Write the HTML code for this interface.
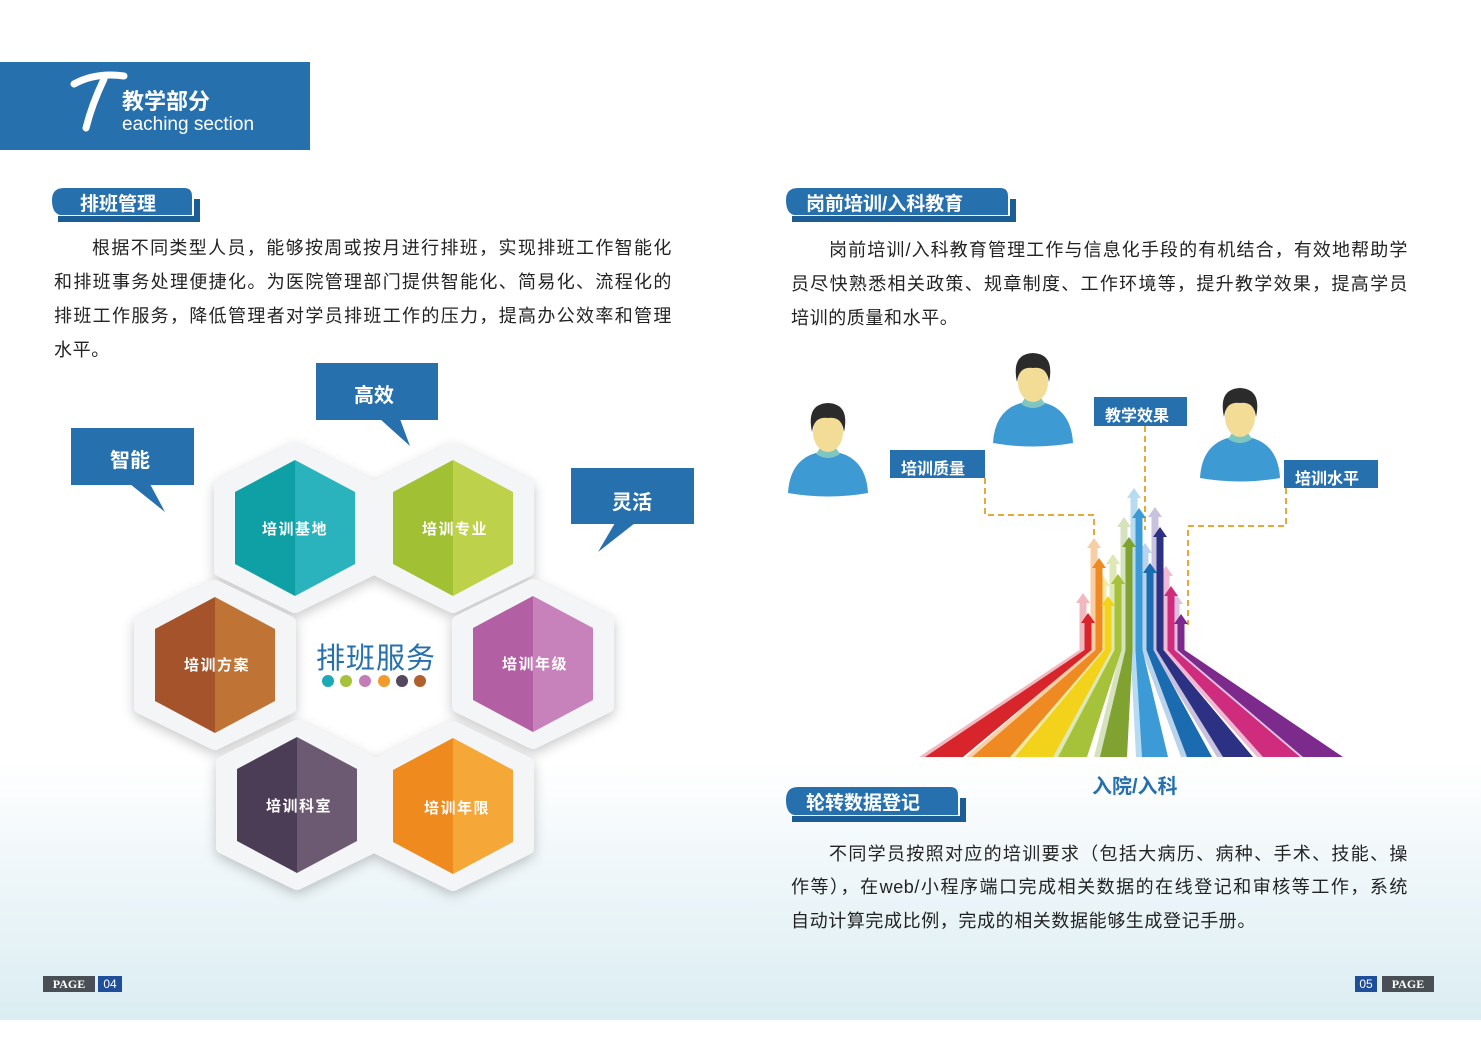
<!DOCTYPE html>
<html><head><meta charset="utf-8">
<style>
*{margin:0;padding:0;box-sizing:border-box}
body{width:1481px;height:1047px;position:relative;overflow:hidden;background:#fff;font-family:"Liberation Sans","Noto Sans CJK SC",sans-serif;}
.bg{position:absolute;left:0;top:760px;width:1481px;height:260px;background:linear-gradient(180deg,rgba(255,255,255,0) 0%,#eef6f9 45%,#dbedf2 100%);}
.t{position:absolute;font-size:18px;color:#232323;letter-spacing:0.6px;white-space:nowrap;text-align:justify;text-align-last:justify;}
.abs{position:absolute}
.lbl{position:absolute;color:#fff;font-weight:bold;font-family:"Liberation Sans","Noto Sans CJK SC",sans-serif;}
.hl{position:absolute;width:120px;text-align:center;color:#fff;font-weight:bold;font-size:15px;letter-spacing:1.5px;}
</style></head><body>
<div class="bg"></div>
<svg class="abs" style="left:0;top:0" width="1481" height="1047" xmlns="http://www.w3.org/2000/svg">
<rect x="0" y="62" width="310" height="88" fill="#2670ae"/>
<path d="M74 84 Q96 72 124 76" stroke="#fff" stroke-width="7" fill="none" stroke-linecap="round"/>
<path d="M104 79 Q92 104 86 128" stroke="#fff" stroke-width="7" fill="none" stroke-linecap="round"/>
<g>
<rect x="194" y="199" width="6" height="23" fill="#1c5d96"/>
<rect x="58" y="216" width="142" height="6" fill="#1c5d96"/>
<path d="M64 188 L184 188 Q192 188 192 196 L192 215 L60 215 Q52 213 52 200 Q52 188 64 188Z" fill="#2670ae"/>
</g>
<g>
<rect x="1010" y="199" width="6" height="23" fill="#1c5d96"/>
<rect x="792" y="216" width="224" height="6" fill="#1c5d96"/>
<path d="M798 188 L1000 188 Q1008 188 1008 196 L1008 215 L794 215 Q786 213 786 200 Q786 188 798 188Z" fill="#2670ae"/>
</g>
<g>
<rect x="960" y="798" width="6" height="24" fill="#1c5d96"/>
<rect x="792" y="816" width="174" height="6" fill="#1c5d96"/>
<path d="M798 787 L950 787 Q958 787 958 795 L958 815 L794 815 Q786 813 786 800 Q786 787 798 787Z" fill="#2670ae"/>
</g>
<rect x="71" y="428" width="123" height="57" fill="#2670ae"/><path d="M130 484 L165 512 L150 484Z" fill="#2670ae"/>
<rect x="316" y="363" width="122" height="57" fill="#2670ae"/><path d="M380 419 L410 446 L400 419Z" fill="#2670ae"/>
<rect x="571" y="468" width="123" height="56" fill="#2670ae"/><path d="M615 523 L598 552 L635 523Z" fill="#2670ae"/>
<defs><filter id="sh" x="-30%" y="-30%" width="160%" height="160%"><feDropShadow dx="0" dy="4" stdDeviation="6" flood-color="#000" flood-opacity="0.22"/></filter></defs>
<g>
<g filter="url(#sh)">
<path d="M295 450 L369 486 L369 570 L295 606 L221 570 L221 486Z" fill="#f4f5f7" stroke="#f4f5f7" stroke-width="14" stroke-linejoin="round"/>
<path d="M453 450 L527 486 L527 570 L453 606 L379 570 L379 486Z" fill="#f4f5f7" stroke="#f4f5f7" stroke-width="14" stroke-linejoin="round"/>
<path d="M215 587 L289 623 L289 707 L215 743 L141 707 L141 623Z" fill="#f4f5f7" stroke="#f4f5f7" stroke-width="14" stroke-linejoin="round"/>
<path d="M533 586 L607 622 L607 706 L533 742 L459 706 L459 622Z" fill="#f4f5f7" stroke="#f4f5f7" stroke-width="14" stroke-linejoin="round"/>
<path d="M297 727 L371 763 L371 847 L297 883 L223 847 L223 763Z" fill="#f4f5f7" stroke="#f4f5f7" stroke-width="14" stroke-linejoin="round"/>
<path d="M453 728 L527 764 L527 848 L453 884 L379 848 L379 764Z" fill="#f4f5f7" stroke="#f4f5f7" stroke-width="14" stroke-linejoin="round"/>
</g>
<path d="M295 460 L295 596 L235 564 L235 492Z" fill="#0fa0a6"/><path d="M295 460 L355 492 L355 564 L295 596Z" fill="#2ab3bd"/>
<path d="M453 460 L453 596 L393 564 L393 492Z" fill="#a2c034"/><path d="M453 460 L513 492 L513 564 L453 596Z" fill="#bed14a"/>
<path d="M215 597 L215 733 L155 701 L155 629Z" fill="#a4532a"/><path d="M215 597 L275 629 L275 701 L215 733Z" fill="#bf7436"/>
<path d="M533 596 L533 732 L473 700 L473 628Z" fill="#b35fa3"/><path d="M533 596 L593 628 L593 700 L533 732Z" fill="#c882bb"/>
<path d="M297 737 L297 873 L237 841 L237 769Z" fill="#4b3d55"/><path d="M297 737 L357 769 L357 841 L297 873Z" fill="#6b5a72"/>
<path d="M453 738 L453 874 L393 842 L393 770Z" fill="#ef8a1e"/><path d="M453 738 L513 770 L513 842 L453 874Z" fill="#f5a737"/>
</g>
<circle cx="328" cy="681" r="6" fill="#1ba9b4"/><circle cx="346" cy="681" r="6" fill="#a6c23a"/><circle cx="365" cy="681" r="6" fill="#c27cb6"/><circle cx="384" cy="681" r="6" fill="#f29a2a"/><circle cx="402" cy="681" r="6" fill="#55475e"/><circle cx="420" cy="681" r="6" fill="#b0602e"/>
<g id="p1">
<path d="M788 493 Q790 458 820 452 L836 452 Q866 458 868 493 Q828 500 788 493Z" fill="#3d9ad3"/>
<path d="M816 454 Q828 462 840 454 L836 448 L820 448Z" fill="#7fc5c0"/>
<ellipse cx="828" cy="432" rx="15" ry="20" fill="#f3dc95"/>
<path d="M812 432 Q806 404 828 403 Q850 404 844 432 Q842 416 828 418 Q814 416 812 432Z" fill="#2b2b2b"/>
</g>
<use href="#p1" transform="translate(205,-50)"/>
<use href="#p1" transform="translate(412,-15)"/>
<rect x="890" y="450" width="95" height="28" fill="#2670ae"/>
<rect x="1094" y="397" width="93" height="29" fill="#2670ae"/>
<rect x="1284" y="460" width="94" height="28" fill="#2670ae"/>
<g stroke="#e7a83a" stroke-width="2" stroke-dasharray="6,4" fill="none">
<path d="M985 478 V515 H1094 V570"/>
<path d="M1145 426 V530"/>
<path d="M1286 488 V526 H1188 V625"/>
</g>
<g id="arrows"></g>
</svg>
<script>
const A=[
["#d7252b","#f2b8c0",1088,613,925,963],
["#ef8a22","#f8cfa4",1099,558,972,1010],
["#f2d21a","#f6eaa0",1108,596,1015,1053],
["#a6c23a","#dde8b4",1118,574,1058,1087],
["#7fa230","#d6e2bd",1129,537,1100,1127],
["#3c9ad6","#b7dbf1",1139,508,1142,1168],
["#1a6bb0","#b9d3ec",1150,563,1187,1212],
["#2d3184","#c8c2df",1160,527,1223,1253],
["#d02c7e","#f0b9d4",1171,586,1263,1300],
["#7c2b8d","#dcc2e2",1181,614,1303,1343]];
const ns="http://www.w3.org/2000/svg";const g=document.getElementById("arrows");
function arr(c,xs,yt,bl,br){const p=document.createElementNS(ns,"polygon");
p.setAttribute("points",`${xs},${yt} ${xs+7},${yt+10} ${xs+3.5},${yt+10} ${xs+3.5},650 ${br},757 ${bl},757 ${xs-3.5},650 ${xs-3.5},${yt+10} ${xs-7},${yt+10}`);
p.setAttribute("fill",c);g.appendChild(p);}
A.forEach(a=>arr(a[1],a[2]-5,a[3]-20,a[4]-6,a[5]-4));
A.forEach(a=>arr(a[0],a[2],a[3],a[4],a[5]));
</script>
<div class="lbl" style="left:122px;top:84px;font-size:22px;">教学部分</div>
<div class="abs" style="left:122px;top:114px;font-size:19px;color:#fff;">eaching section</div>
<div class="lbl" style="left:80px;top:189px;font-size:19px;">排班管理</div>
<div class="lbl" style="left:806px;top:189px;font-size:19px;">岗前培训/入科教育</div>
<div class="lbl" style="left:806px;top:788px;font-size:19px;">轮转数据登记</div>
<div class="t" style="left:92px;top:234px;width:580px;">根据不同类型人员，能够按周或按月进行排班，实现排班工作智能化</div>
<div class="t" style="left:54px;top:268px;width:618px;">和排班事务处理便捷化。为医院管理部门提供智能化、简易化、流程化的</div>
<div class="t" style="left:54px;top:302px;width:618px;">排班工作服务，降低管理者对学员排班工作的压力，提高办公效率和管理</div>
<div class="t" style="left:54px;top:336px;text-align-last:left;">水平。</div>
<div class="t" style="left:829px;top:236px;width:579px;">岗前培训/入科教育管理工作与信息化手段的有机结合，有效地帮助学</div>
<div class="t" style="left:791px;top:270px;width:617px;">员尽快熟悉相关政策、规章制度、工作环境等，提升教学效果，提高学员</div>
<div class="t" style="left:791px;top:304px;text-align-last:left;">培训的质量和水平。</div>
<div class="t" style="left:829px;top:840px;width:579px;">不同学员按照对应的培训要求（包括大病历、病种、手术、技能、操</div>
<div class="t" style="left:791px;top:873px;width:617px;">作等），在web/小程序端口完成相关数据的在线登记和审核等工作，系统</div>
<div class="t" style="left:791px;top:907px;text-align-last:left;">自动计算完成比例，完成的相关数据能够生成登记手册。</div>
<div class="lbl" style="left:110px;top:444px;font-size:20px;">智能</div>
<div class="lbl" style="left:354px;top:379px;font-size:20px;">高效</div>
<div class="lbl" style="left:612px;top:486px;font-size:20px;">灵活</div>
<div class="hl" style="left:235px;top:518px;">培训基地</div>
<div class="hl" style="left:395px;top:518px;">培训专业</div>
<div class="hl" style="left:157px;top:654px;">培训方案</div>
<div class="hl" style="left:475px;top:653px;">培训年级</div>
<div class="hl" style="left:239px;top:795px;">培训科室</div>
<div class="hl" style="left:397px;top:797px;">培训年限</div>
<div class="abs" style="left:316px;top:635px;font-size:29px;color:#2670ae;letter-spacing:1px;">排班服务</div>
<div class="lbl" style="left:901px;top:455px;font-size:16px;">培训质量</div>
<div class="lbl" style="left:1105px;top:402px;font-size:16px;">教学效果</div>
<div class="lbl" style="left:1295px;top:465px;font-size:16px;">培训水平</div>
<div class="abs" style="left:1092px;top:770px;font-size:20px;font-weight:bold;color:#2670ae;">入院/入科</div>
<div class="abs" style="left:43px;top:976px;width:52px;height:16px;background:#4a4f55;color:#fff;font-family:'Liberation Serif',serif;font-size:12px;font-weight:bold;line-height:16px;text-align:center;">PAGE</div>
<div class="abs" style="left:98px;top:976px;width:24px;height:16px;background:#1f4f9a;color:#fff;font-size:12px;line-height:16px;text-align:center;">04</div>
<div class="abs" style="left:1355px;top:976px;width:22px;height:16px;background:#1f4f9a;color:#fff;font-size:12px;line-height:16px;text-align:center;">05</div>
<div class="abs" style="left:1382px;top:976px;width:52px;height:16px;background:#4a4f55;color:#fff;font-family:'Liberation Serif',serif;font-size:12px;font-weight:bold;line-height:16px;text-align:center;">PAGE</div>
</body></html>
